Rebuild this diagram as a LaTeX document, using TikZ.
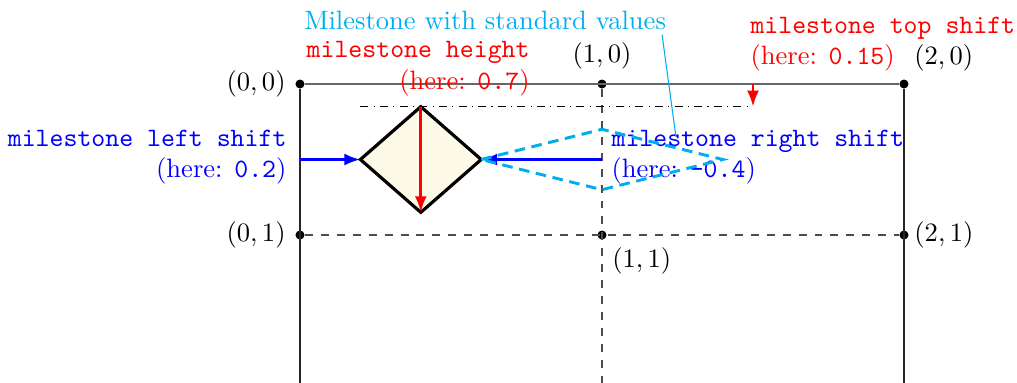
\documentclass[tikz,border=0pt]{standalone}
\usetikzlibrary{arrows.meta}
\definecolor{stdcyan}{RGB}{0,174,239}
\definecolor{msfill}{RGB}{254,250,232}
\begin{document}
\begin{tikzpicture}[x=4cm,y=-2cm,
  gridline/.style={black!85, line width=0.4pt},
  topline/.style={black!60, line width=0.8pt},
  dashline/.style={black!70, dashed, line width=0.4pt},
  dot/.style={circle, fill=black, inner sep=0pt, minimum size=3.4pt},
  redarrow/.style={red, line width=1pt, -{Latex[length=6pt,width=4.5pt]}},
  bluearrow/.style={blue, line width=1pt, -{Latex[length=6pt,width=4.5pt]}},
  msbox/.style={draw=black, line width=1.2pt, fill=msfill, line join=miter},
  stdbox/.style={draw=stdcyan, line width=1.1pt, dash pattern=on 4pt off 2.5pt},
  lbl/.style={inner sep=0pt},
]
\useasboundingbox (-0.9934,-0.5563) rectangle (2.3742,1.9801);

% grid points
\node[dot] (c00) at (0,0) {};
\node[dot] (c10) at (1,0) {};
\node[dot] (c20) at (2,0) {};
\node[dot] (c01) at (0,1) {};
\node[dot] (c11) at (1,1) {};
\node[dot] (c21) at (2,1) {};
\coordinate (b0) at (0,2);
\coordinate (b1) at (1,2);
\coordinate (b2) at (2,2);

% grid lines
\draw[gridline] (c00) -- (b0);
\draw[gridline] (c20) -- (b2);
\draw[dashline] (c10) -- (b1);
\draw[dashline] (c01) -- (c21);
\draw[topline] (c00) -- (c20);

% coordinate labels
\node[left] (l00) at (c00.west) {$(0,0)$};
\node[above] (l10) at (c10.north) {$(1,0)$};
\node[above right, xshift=-1pt] (l20) at (c20.north east) {$(2,0)$};
\node[left] (l01) at (c01.west) {$(0,1)$};
\node[below right, xshift=-1pt] (l11) at (c11.south east) {$(1,1)$};
\node[right, xshift=-1.5pt] (l21) at (c21.east) {$(2,1)$};

% milestone geometry
\coordinate (mL) at (0.2,0.5);
\coordinate (mT) at (0.4,0.15);
\coordinate (mR) at (0.6,0.5);
\coordinate (mB) at (0.4,0.85);
\coordinate (lL) at (0,0.5);
\coordinate (lR) at (1,0.5);
\coordinate (tsA) at (1.5,0);
\coordinate (tsB) at (1.5,0.15);

% top shift dash-dot line
\draw[black, line width=0.4pt, dash pattern=on 3pt off 2pt on 0.4pt off 2pt] (mT -| 0.2,0) -- (tsB);

% milestone diamond
\draw[msbox] (mL) -- (mT) -- (mR) -- (mB) -- cycle;

% arrows
\draw[redarrow] (mT) -- (mB);
\draw[redarrow] (tsA) -- (tsB);
\draw[bluearrow] (lL) -- (mL);
\draw[bluearrow] (lR) -- (mR);

% labels
\node[lbl, red, align=right, anchor=south east] (hlab) at (0.762,0.083)
  {\texttt{milestone height}\\(here: \texttt{0.7})};
\node[lbl, red, align=left, anchor=south west] (tlab) at (1.490,-0.079)
  {\texttt{milestone top shift}\\(here: \texttt{0.15})};
\node[lbl, blue, align=right, anchor=south east] (llab) at (-0.043,0.669)
  {\texttt{milestone left shift}\\(here: \texttt{0.2})};
\node[lbl, blue, align=left, anchor=south west] (rlab) at (1.030,0.669)
  {\texttt{milestone right shift}\\(here: \texttt{-0.4})};

% standard milestone
\coordinate (sL) at (0.6,0.5);
\coordinate (sT) at (1,0.3);
\coordinate (sR) at (1.4,0.5);
\coordinate (sB) at (1,0.7);
\draw[stdbox] (sL) -- (sT) -- (sR) -- (sB) -- cycle;

\node[stdcyan, anchor=base] (slab) at (0.613,-0.364) {Milestone with standard values};
\coordinate (stip) at (1.245,0.351);
\draw[stdcyan, line width=0.4pt] ([xshift=-5pt, yshift=1.5pt]slab.south east) -- (stip);
\end{tikzpicture}
\end{document}
